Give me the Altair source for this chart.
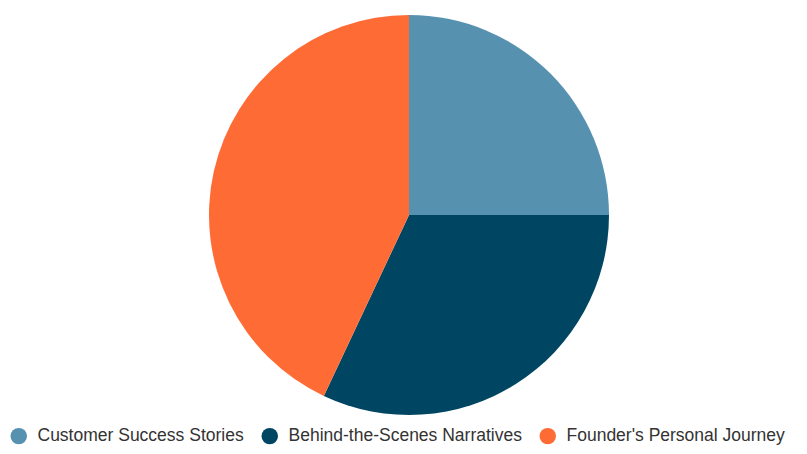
import altair as alt
import pandas as pd

categories = ["Customer Success Stories", "Behind-the-Scenes Narratives", "Founder's Personal Journey"]
values = [25, 32, 43]
colors = ["#5791B0", "#004561", "#FF6B35"]

df = pd.DataFrame({"category": categories, "value": values, "order": [0, 1, 2]})

chart = alt.Chart(df).mark_arc(radius=200, stroke=None).encode(
    theta=alt.Theta("value:Q", stack=True),
    order=alt.Order("order:Q"),
    x=alt.value(401),
    y=alt.value(207),
    color=alt.Color(
        "category:N",
        sort=categories,
        scale=alt.Scale(domain=categories, range=colors),
        legend=alt.Legend(
            title=None,
            orient="none",
            direction="horizontal",
            legendX=2,
            legendY=419,
            symbolType="circle",
            symbolSize=270,
            symbolStrokeWidth=0,
            labelFont="Liberation Sans",
            labelFontSize=17.5,
            labelColor="#333333",
            labelOffset=10,
            columnPadding=17,
            labelLimit=400,
        ),
    ),
).properties(width=791, height=438, padding=0, autosize="none").configure_view(stroke=None)

chart.save("out.html", embed_options={"renderer": "svg", "actions": False})
